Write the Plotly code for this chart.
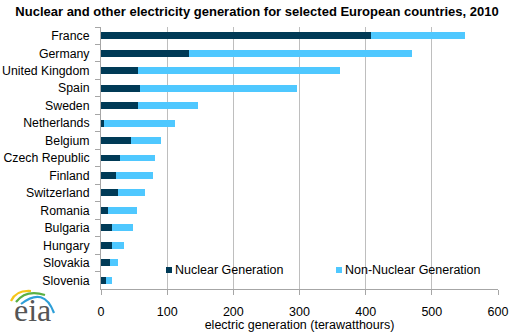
import plotly.graph_objects as go

countries = ["France", "Germany", "United Kingdom", "Spain", "Sweden", "Netherlands",
             "Belgium", "Czech Republic", "Finland", "Switzerland", "Romania",
             "Bulgaria", "Hungary", "Slovakia", "Slovenia"]
nuclear = [408, 133, 56, 59, 56, 4, 46, 28, 23, 26, 11, 16, 16, 14, 7]
total = [550, 470, 361, 296, 146, 112, 90, 81, 78, 67, 55, 48, 35, 26, 16]
non_nuclear = [t - n for t, n in zip(total, nuclear)]

x_ticks = [0, 100, 200, 300, 400, 500, 600]

NUC = "#003A56"
NON = "#4FC8FF"
FONT = "Liberation Sans, Arial, sans-serif"

W, H = 521, 332
L, R, T, B = 101, 23, 27, 43
PW, PH = W - L - R, H - T - B


def px(x):
    return (x - L) / PW


def py(y):
    return (H - B - y) / PH


fig = go.Figure()
fig.add_trace(go.Bar(y=countries, x=nuclear, orientation="h", name="Nuclear Generation",
                     marker=dict(color=NUC, line=dict(width=0)), width=0.4))
fig.add_trace(go.Bar(y=countries, x=non_nuclear, orientation="h", name="Non-Nuclear Generation",
                     marker=dict(color=NON, line=dict(width=0)), width=0.4))

shapes = []
annotations = []

# legend (drawn manually to match the small square markers)
for sx, col, label in [(166, NUC, "Nuclear Generation"), (336, NON, "Non-Nuclear Generation")]:
    shapes.append(dict(type="rect", xref="paper", yref="paper",
                       x0=px(sx), x1=px(sx + 6), y0=py(273), y1=py(267),
                       fillcolor=col, line=dict(width=0)))
    annotations.append(dict(text=label, xref="paper", yref="paper", x=px(sx + 7), y=py(270),
                            xanchor="left", yanchor="middle", showarrow=False,
                            font=dict(family=FONT, size=12.5, color="#000")))

# eia logo
arcs = [
    ("#F5C518", (11, 301), (16, 290), (31, 291)),
    ("#5BB043", (16, 302), (26, 289), (45, 295)),
    ("#2E9FD8", (21, 304), (44, 286), (54, 313)),
]
for col, p0, c, p1 in arcs:
    path = "M {},{} Q {},{} {},{}".format(px(p0[0]), py(p0[1]), px(c[0]), py(c[1]), px(p1[0]), py(p1[1]))
    shapes.append(dict(type="path", xref="paper", yref="paper", path=path,
                       line=dict(color=col, width=2.2)))
annotations.append(dict(text="eia", xref="paper", yref="paper", x=px(32), y=py(329),
                        xanchor="center", yanchor="bottom", showarrow=False, borderpad=0,
                        font=dict(family="Liberation Serif, DejaVu Serif, serif", size=32, color="#555555")))

fig.update_layout(
    width=W, height=H,
    margin=dict(l=L, r=R, t=T, b=B),
    barmode="stack",
    showlegend=False,
    plot_bgcolor="white", paper_bgcolor="white",
    font=dict(family=FONT, size=12.5, color="#000"),
    title=dict(text="<b>Nuclear and other electricity generation for selected European countries, 2010</b>",
               x=257 / W, xref="container", xanchor="center", y=1 - 11 / H, yanchor="middle",
               font=dict(family=FONT, size=13, color="#000")),
    xaxis=dict(range=[0, 600], tickvals=x_ticks, ticktext=[str(v) for v in x_ticks],
               showgrid=True, gridcolor="#BEBEBE", gridwidth=1,
               showline=True, linecolor="#A6A6A6", linewidth=1,
               ticks="outside", ticklen=5, tickcolor="#A6A6A6",
               zeroline=False, ticklabelstandoff=6, automargin=False,
               title=dict(text="electric generation (terawatthours)", standoff=0,
                          font=dict(family=FONT, size=12.5, color="#000")),
               tickfont=dict(family=FONT, size=12.5, color="#000")),
    yaxis=dict(categoryorder="array", categoryarray=countries, autorange="reversed",
               showline=True, linecolor="#A6A6A6", linewidth=1,
               ticks="outside", ticklen=5, tickcolor="#A6A6A6", tickson="boundaries",
               showgrid=False, zeroline=False, ticklabelstandoff=8, automargin=False,
               tickfont=dict(family=FONT, size=12.3, color="#000")),
    shapes=shapes,
    annotations=annotations,
)

fig.write_html("out.html")
